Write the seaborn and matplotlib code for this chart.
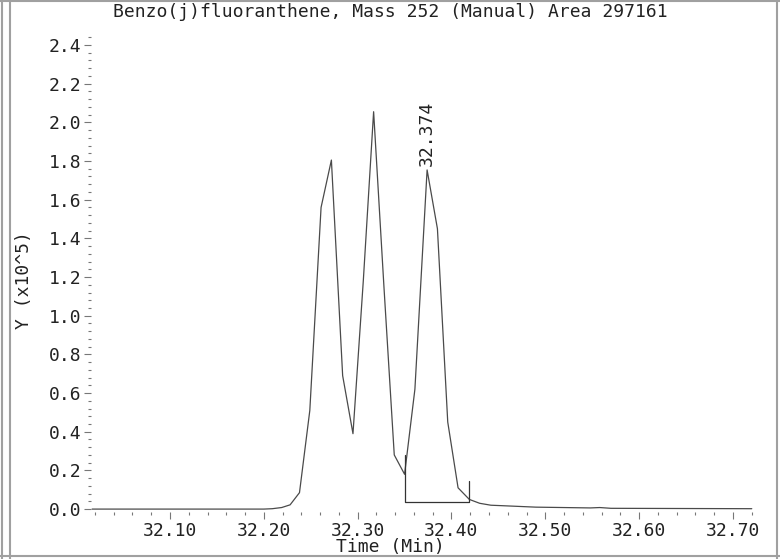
import matplotlib
matplotlib.use("Agg")
import matplotlib.pyplot as plt
import seaborn as sns
import pandas as pd
from matplotlib.lines import Line2D
from matplotlib.ticker import MultipleLocator, FormatStrFormatter

# Chromatogram trace (time in min, abundance in units of 1e5)
time_min = [32.017, 32.200, 32.209, 32.219, 32.228, 32.238, 32.249, 32.261,
            32.272, 32.284, 32.295, 32.306, 32.317, 32.328, 32.339, 32.350,
            32.361, 32.374, 32.385, 32.396, 32.407, 32.419, 32.430, 32.442,
            32.452, 32.490, 32.548, 32.558, 32.570, 32.720]
abundance = [0.000, 0.000, 0.002, 0.008, 0.022, 0.085, 0.51, 1.56,
             1.805, 0.69, 0.39, 1.18, 2.055, 1.15, 0.28, 0.18,
             0.62, 1.754, 1.45, 0.45, 0.11, 0.05, 0.03, 0.02,
             0.018, 0.010, 0.006, 0.008, 0.004, 0.002]

# Manual integration baseline (start tick, baseline, end tick)
base_t = [32.350, 32.350, 32.419, 32.419]
base_y = [0.28, 0.035, 0.035, 0.146]

peak_rt = 32.374
peak_y = 1.754
title = "Benzo(j)fluoranthene, Mass 252 (Manual) Area 297161"

sns.set_style("white")
plt.rcParams['font.family'] = ['DejaVu Sans Mono']
FS = 13

df = pd.DataFrame({'Time': time_min, 'Y': abundance})

fig = plt.figure(figsize=(7.8, 5.59), dpi=100)
ax = fig.add_axes([0.1169, 0.0841, 0.8481, 0.8596])

sns.lineplot(ax=ax, data=df, x='Time', y='Y', sort=False, estimator=None,
             color='#4a4a4a', linewidth=0.9)
ax.plot(base_t, base_y, color='#333333', linewidth=0.9)

ax.annotate(f"{peak_rt:.3f}", xy=(peak_rt, peak_y), xytext=(0, 3),
            textcoords='offset points', rotation=90, ha='center', va='bottom',
            fontsize=FS, color='#222222')

ax.set_xlim(32.016, 32.721)
ax.set_ylim(-0.015, 2.47)

ax.xaxis.set_major_locator(MultipleLocator(0.1))
ax.xaxis.set_minor_locator(MultipleLocator(0.02))
ax.xaxis.set_major_formatter(FormatStrFormatter('%.2f'))
ax.yaxis.set_major_locator(MultipleLocator(0.2))
ax.yaxis.set_minor_locator(MultipleLocator(0.04))
ax.yaxis.set_major_formatter(FormatStrFormatter('%.1f'))

ax.tick_params(which='major', direction='out', length=5, width=0.8,
               color='#777777', labelsize=FS, labelcolor='#222222', pad=2)
ax.tick_params(which='minor', direction='out', length=2.5, width=0.8,
               color='#777777')
ax.tick_params(axis='y', which='both', left=True)
ax.tick_params(axis='x', which='both', bottom=True)

for s in ax.spines.values():
    s.set_visible(False)

ax.set_xlabel('Time (Min)', fontsize=FS, color='#222222')
ax.xaxis.set_label_coords(0.5, 0.037, transform=fig.transFigure)
ax.set_ylabel('Y (x10^5)', fontsize=FS, color='#222222')
ax.yaxis.set_label_coords(0.042, 0.499, transform=fig.transFigure)

fig.text(0.5, 1 - 12 / 559, title, ha='center', va='center', fontsize=FS,
         color='#222222')

# window frame
H, W = 559.0, 780.0
frame = '#a0a0a0'
for x in (2, 10, 777):
    fig.add_artist(Line2D([x / W, x / W], [0, 1], color=frame, lw=1.5,
                          transform=fig.transFigure))
for y in (1, 556):
    fig.add_artist(Line2D([0, 1], [1 - y / H, 1 - y / H], color=frame, lw=1.5,
                          transform=fig.transFigure))

fig.savefig('out.png', dpi=100)
